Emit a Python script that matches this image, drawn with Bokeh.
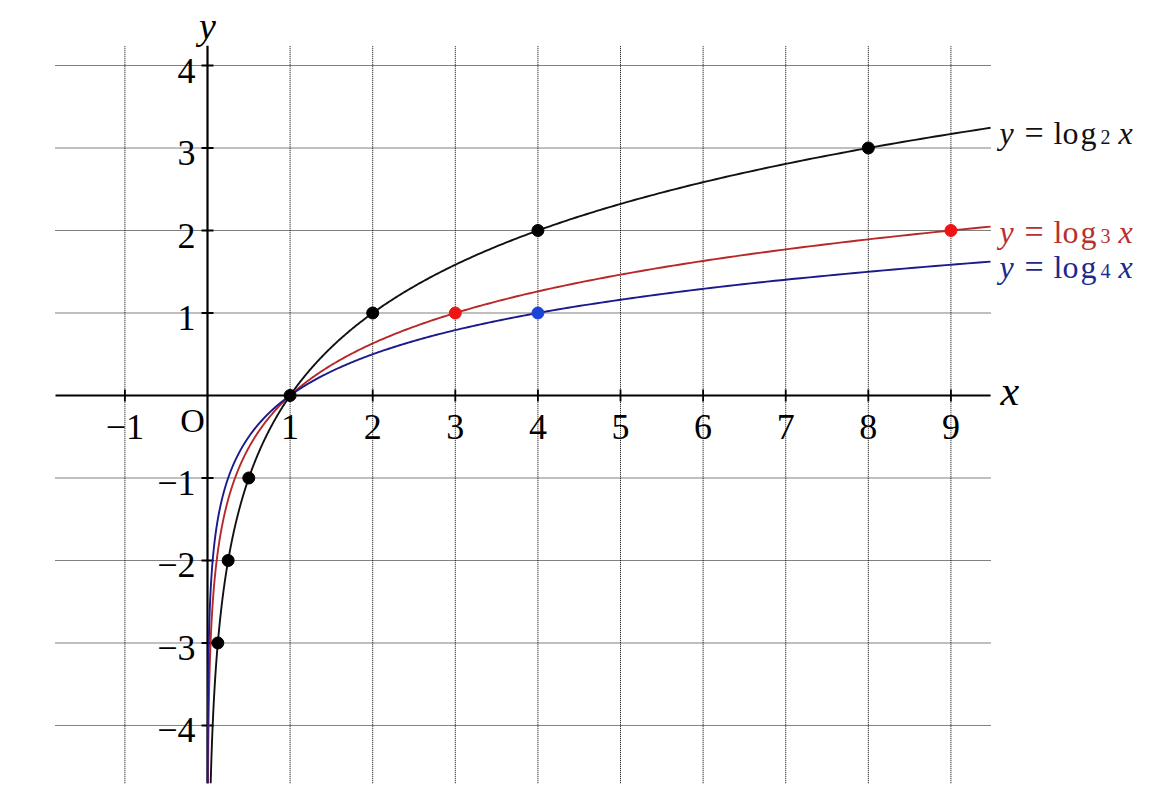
import numpy as np
from bokeh.plotting import figure
from bokeh.models import Range1d
from bokeh.core.properties import value
from bokeh.embed import file_html
from bokeh.resources import INLINE

# ---- data ----
bases = [2, 3, 4]
curve_colors = ["#111111", "#b82828", "#1a1a8c"]
label_colors = ["#111111", "#b8302e", "#1a2a8a"]
x_ticks = [-1, 1, 2, 3, 4, 5, 6, 7, 8, 9]
y_ticks = [-4, -3, -2, -1, 1, 2, 3, 4]
x_tick_labels = ["\u22121", "1", "2", "3", "4", "5", "6", "7", "8", "9"]
y_tick_labels = ["\u22124", "\u22123", "\u22122", "\u22121", "1", "2", "3", "4"]
pts2_x = [0.125, 0.25, 0.5, 1, 2, 4, 8]
pts2_y = [-3, -2, -1, 0, 1, 2, 3]
pts3_x = [3, 9]
pts3_y = [1, 2]
pts4_x = [4]
pts4_y = [1]

X_MIN, X_MAX = -1.84, 9.48
Y_MIN, Y_MAX = -4.7, 4.24

FONT = value("Liberation Serif")

p = figure(width=1149, height=789, output_backend="svg", toolbar_location=None,
           x_range=Range1d(-2.506, 11.404), y_range=Range1d(-4.776, 4.788),
           x_axis_type=None, y_axis_type=None, min_border=0,
           background_fill_color="white", border_fill_color="white")
p.grid.visible = False
p.outline_line_color = None

# grid (dotted)
p.segment(x0=x_ticks, y0=[Y_MIN] * len(x_ticks), x1=x_ticks, y1=[Y_MAX] * len(x_ticks),
          line_color="#000000", line_width=1, line_dash="1 1")
p.segment(x0=[X_MIN] * len(y_ticks), y0=y_ticks, x1=[X_MAX] * len(y_ticks), y1=y_ticks,
          line_color="#000000", line_width=1, line_dash="1 1")

# axes
p.segment(x0=[X_MIN], y0=[0], x1=[X_MAX], y1=[0], line_color="black", line_width=2.2)
p.segment(x0=[0], y0=[Y_MIN], x1=[0], y1=[Y_MAX], line_color="black", line_width=2.2)

# tick marks
tx = 6 / 82.6
ty = 6 / 82.5
p.segment(x0=x_ticks, y0=[-ty] * len(x_ticks), x1=x_ticks, y1=[ty] * len(x_ticks),
          line_color="black", line_width=1.8)
p.segment(x0=[-tx] * len(y_ticks), y0=y_ticks, x1=[tx] * len(y_ticks), y1=y_ticks,
          line_color="black", line_width=1.8)

# tick labels
p.text(x=x_ticks, y=[0] * len(x_ticks), text=x_tick_labels, text_font=FONT,
       text_font_size="36px", text_align="center", text_baseline="middle",
       y_offset=32, text_color="black")
p.text(x=[0] * len(y_ticks), y=y_ticks, text=y_tick_labels, text_font=FONT,
       text_font_size="36px", text_align="right", text_baseline="middle",
       x_offset=-12, y_offset=5, text_color="black")
p.text(x=[0], y=[0], text=["O"], text_font=FONT, text_font_size="34px",
       text_align="center", text_baseline="middle", x_offset=-15, y_offset=25,
       text_color="black")

# axis names
p.text(x=[0], y=[Y_MAX], text=["y"], text_font=FONT, text_font_style="italic",
       text_font_size="38px", text_align="center", text_baseline="middle",
       y_offset=-20, text_color="black")
p.text(x=[X_MAX], y=[0], text=["x"], text_font=FONT, text_font_style="italic",
       text_font_size="42px", text_align="left", text_baseline="middle",
       x_offset=10, y_offset=-4, text_color="black")

# curves and labels
for b, c, lc in zip(bases, curve_colors, label_colors):
    xs = np.geomspace(float(b) ** Y_MIN, X_MAX, 600)
    ys = np.log(xs) / np.log(b)
    p.line(xs, ys, line_color=c, line_width=1.9)
    yend = np.log(X_MAX) / np.log(b)
    pieces = [("y", 9, "32px", "italic", 5),
              ("=", 34, "34px", "normal", 5),
              ("l", 63, "32px", "normal", 5),
              ("o", 72, "32px", "normal", 5),
              ("g", 90, "32px", "normal", 5),
              (str(b), 110, "20px", "normal", 9),
              ("x", 128, "32px", "italic", 5)]
    for t, dx, fs, st, dy in pieces:
        p.text(x=[X_MAX], y=[yend], text=[t], text_font=FONT, text_font_size=fs,
               text_font_style=st, text_align="left", text_baseline="alphabetic",
               x_offset=dx, y_offset=dy, text_color=lc)

# points
p.scatter(pts3_x, pts3_y, size=12, fill_color="#ee1414", line_color="#ee1414")
p.scatter(pts4_x, pts4_y, size=12, fill_color="#1a44d8", line_color="#1a44d8")
p.scatter(pts2_x, pts2_y, size=12, fill_color="black", line_color="black")

open("out.html", "w").write(file_html(p, INLINE))
